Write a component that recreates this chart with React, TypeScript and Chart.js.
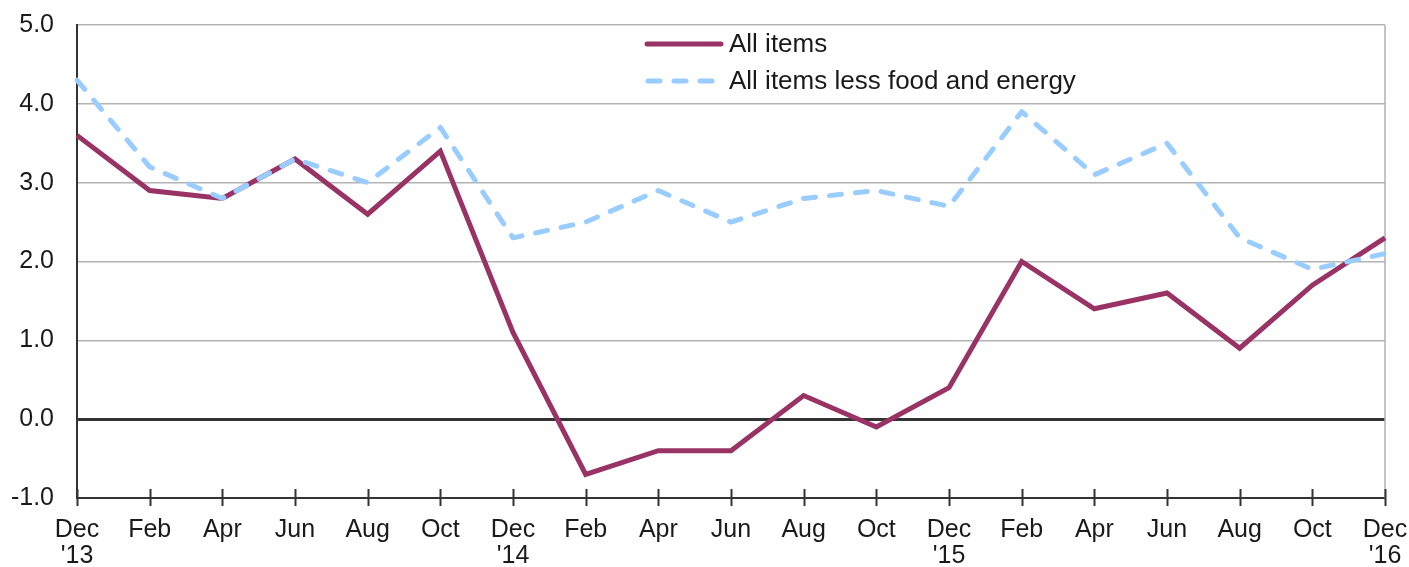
import React, { useEffect, useRef } from "react";
import { Chart, registerables } from "chart.js";

Chart.register(...registerables);

const monthLabels: (string | string[])[] = [
  ["Dec", "'13"], "Feb", "Apr", "Jun", "Aug", "Oct",
  ["Dec", "'14"], "Feb", "Apr", "Jun", "Aug", "Oct",
  ["Dec", "'15"], "Feb", "Apr", "Jun", "Aug", "Oct",
  ["Dec", "'16"],
];

const allItems = [3.6, 2.9, 2.8, 3.3, 2.6, 3.4, 1.1, -0.7, -0.4, -0.4, 0.3, -0.1, 0.4, 2.0, 1.4, 1.6, 0.9, 1.7, 2.3];
const coreItems = [4.3, 3.2, 2.8, 3.3, 3.0, 3.7, 2.3, 2.5, 2.9, 2.5, 2.8, 2.9, 2.7, 3.9, 3.1, 3.5, 2.3, 1.9, 2.1];

const seriesNames = ["All items", "All items less food and energy"];
const yMin = -1;
const yMax = 5;

const FONT = "'Liberation Sans', Arial, sans-serif";
const TEXT = "#1a1a1a";
const MAROON = "#993366";
const LIGHTBLUE = "#99ccff";

const decorPlugin = {
  id: "decor",
  beforeDatasetsDraw(chart: any) {
    const { ctx, chartArea } = chart;
    const x = chart.scales.x;
    ctx.save();
    ctx.strokeStyle = "#b0b0b0";
    ctx.lineWidth = 1.5;
    ctx.beginPath();
    ctx.moveTo(chartArea.right, chartArea.top);
    ctx.lineTo(chartArea.right, chartArea.bottom);
    ctx.stroke();
    ctx.strokeStyle = "#333333";
    ctx.lineWidth = 2;
    for (let i = 0; i < monthLabels.length; i++) {
      const px = Math.round(x.getPixelForValue(i)) + 0.5;
      ctx.beginPath();
      ctx.moveTo(px, chartArea.bottom - 9);
      ctx.lineTo(px, chartArea.bottom + 8);
      ctx.stroke();
    }
    ctx.restore();
  },
  afterDatasetsDraw(chart: any) {
    const { ctx } = chart;
    ctx.save();
    ctx.font = `26px ${FONT}`;
    ctx.textBaseline = "middle";
    ctx.fillStyle = TEXT;
    const x0 = 645;
    const x1 = 721;
    const rows = [44, 81];
    ctx.strokeStyle = MAROON;
    ctx.lineWidth = 5;
    ctx.lineCap = "round";
    ctx.beginPath();
    ctx.moveTo(x0 + 2, rows[0]);
    ctx.lineTo(x1, rows[0]);
    ctx.stroke();
    ctx.fillText(seriesNames[0], 729, rows[0] + 1);
    ctx.strokeStyle = LIGHTBLUE;
    ctx.setLineDash([12, 14]);
    ctx.beginPath();
    ctx.moveTo(x0 + 3, rows[1]);
    ctx.lineTo(x1 - 6, rows[1]);
    ctx.stroke();
    ctx.setLineDash([]);
    ctx.fillText(seriesNames[1], 729, rows[1] + 1);
    ctx.restore();
  },
};

export default function App() {
  const canvasRef = useRef<HTMLCanvasElement | null>(null);

  useEffect(() => {
    document.body.style.margin = "0";
    const canvas = canvasRef.current;
    if (!canvas) return;
    const chart = new Chart(canvas, {
      type: "line",
      data: {
        labels: monthLabels,
        datasets: [
          {
            label: seriesNames[1],
            data: coreItems,
            borderColor: LIGHTBLUE,
            backgroundColor: LIGHTBLUE,
            borderWidth: 5,
            borderDash: [12, 14],
            borderCapStyle: "round",
            borderJoinStyle: "round",
            pointRadius: 0,
            tension: 0,
          },
          {
            label: seriesNames[0],
            data: allItems,
            borderColor: MAROON,
            backgroundColor: MAROON,
            borderWidth: 5,
            borderJoinStyle: "miter",
            pointRadius: 0,
            tension: 0,
          },
        ],
      },
      options: {
        animation: false,
        responsive: false,
        maintainAspectRatio: false,
        layout: { padding: { top: 25, right: 24, left: 0, bottom: 0 } },
        plugins: {
          legend: { display: false },
          tooltip: { enabled: false },
          title: { display: false },
        },
        scales: {
          x: {
            type: "category",
            offset: false,
            afterFit(scale: any) {
              scale.height = 69;
              scale.paddingLeft = 0;
              scale.paddingRight = 0;
            },
            grid: {
              display: true,
              drawOnChartArea: false,
              drawTicks: true,
              tickLength: 8,
              tickColor: "rgba(0,0,0,0)",
            },
            border: { display: true, color: "#333333", width: 2 },
            ticks: {
              color: TEXT,
              font: { family: FONT, size: 25, lineHeight: 1.05 },
              padding: 11,
              maxRotation: 0,
              minRotation: 0,
              autoSkip: false,
            },
          },
          y: {
            min: yMin,
            max: yMax,
            afterFit(scale: any) {
              scale.width = 77;
              scale.paddingTop = 0;
              scale.paddingBottom = 0;
            },
            grid: {
              drawTicks: false,
              color: (c: any) => (c.tick && c.tick.value === 0 ? "#333333" : "#b3b3b3"),
              lineWidth: (c: any) => (c.tick && c.tick.value === 0 ? 3 : 1.5),
            },
            border: { display: true, color: "#333333", width: 2 },
            ticks: {
              stepSize: 1,
              color: TEXT,
              font: { family: FONT, size: 25 },
              padding: 23,
              callback: (v: any) => Number(v).toFixed(1),
            },
          },
        },
      },
      plugins: [decorPlugin],
    });
    return () => chart.destroy();
  }, []);

  return (
    <div style={{ width: 1409, height: 567, position: "relative" }}>
      <canvas ref={canvasRef} width={1409} height={567} style={{ display: "block" }} />
    </div>
  );
}
